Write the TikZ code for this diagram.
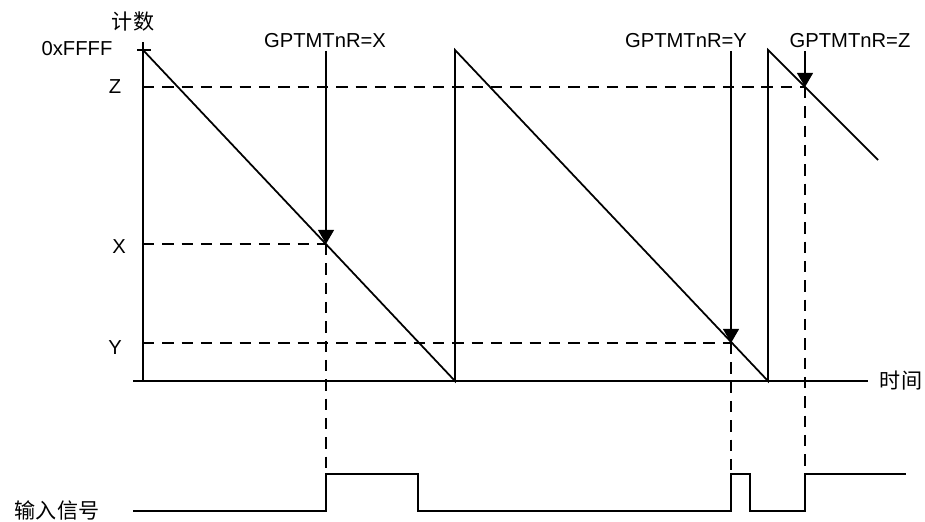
\documentclass[tikz,border=0pt]{standalone}
\usepackage{fontspec}
\setmainfont{Liberation Sans}
\newfontfamily\cjk{Noto Sans CJK SC}
\usetikzlibrary{arrows.meta}

\begin{document}
\begin{tikzpicture}[x=0.02cm,y=-0.02cm,line width=1pt,
  every node/.style={font=\fontsize{11.5}{13}\selectfont},
  cjklabel/.style={font=\cjk\fontsize{12}{14}\selectfont},
  cmpline/.style={dash pattern=on 6.5pt off 4.5pt},
  hitarrow/.style={-{Triangle[length=8pt,width=9pt]}},
  reglabel/.style={inner sep=1pt}]
  \useasboundingbox (0,0) rectangle (925,521);
  \coordinate (Top) at (143,42);
  \coordinate (O) at (143,381);
  \coordinate (T0) at (133,381);
  \coordinate (T1) at (868,381);
  \coordinate (Fl) at (137,50);
  \coordinate (Fr) at (151,50);
  \coordinate (F1) at (143,50);
  \coordinate (R1) at (455,381);
  \coordinate (F2) at (455,50);
  \coordinate (R2) at (768,381);
  \coordinate (F3) at (768,50);
  \coordinate (E) at (878,160);
  \coordinate (Z0) at (143,87);
  \coordinate (X0) at (143,244);
  \coordinate (Y0) at (143,343);
  \coordinate (PX) at (326,244);
  \coordinate (PY) at (731,343);
  \coordinate (PZ) at (805,87);
  \coordinate (S0) at (133,511);
  \coordinate (S1) at (326,511);
  \coordinate (S2) at (326,474);
  \coordinate (S3) at (418,474);
  \coordinate (S4) at (418,511);
  \coordinate (S5) at (731,511);
  \coordinate (S6) at (731,474);
  \coordinate (S7) at (750,474);
  \coordinate (S8) at (750,511);
  \coordinate (S9) at (805,511);
  \coordinate (S10) at (805,474);
  \coordinate (S11) at (906,474);
  \draw (Top)--(O);
  \draw (T0)--(T1);
  \draw (Fl)--(Fr);
  \draw (F1)--(R1)--(F2)--(R2)--(F3)--(E);
  \draw[cmpline] (Z0)--(PZ);
  \draw[cmpline] (X0)--(PX);
  \draw[cmpline] (Y0)--(PY);
  \draw[cmpline] (PX)--(S2);
  \draw[cmpline] (PY)--(S6);
  \draw[cmpline] (PZ)--(S10);
  \draw (S0)--(S1)--(S2)--(S3)--(S4)--(S5)--(S6)--(S7)--(S8)--(S9)--(S10)--(S11);
  \node[reglabel] (lx) at (325,41) {GPTMTnR=X};
  \node[reglabel] (ly) at (686,41) {GPTMTnR=Y};
  \node[reglabel] (lz) at (850,41) {GPTMTnR=Z};
  \draw[hitarrow] (lx.south -| PX)--(PX);
  \draw[hitarrow] (ly.south -| PY)--(PY);
  \draw[hitarrow] (lz.south -| PZ)--(PZ);
  \node[cjklabel] (cnt) at (133,22) {计数};
  \node (ffff) at (77,49) {0xFFFF};
  \node (vz) at (115,87) {Z};
  \node (vx) at (119,247) {X};
  \node (vy) at (115,348) {Y};
  \node[cjklabel] (tm) at (901,381) {时间};
  \node[cjklabel] (sig) at (57,510) {输入信号};
\end{tikzpicture}
\end{document}
